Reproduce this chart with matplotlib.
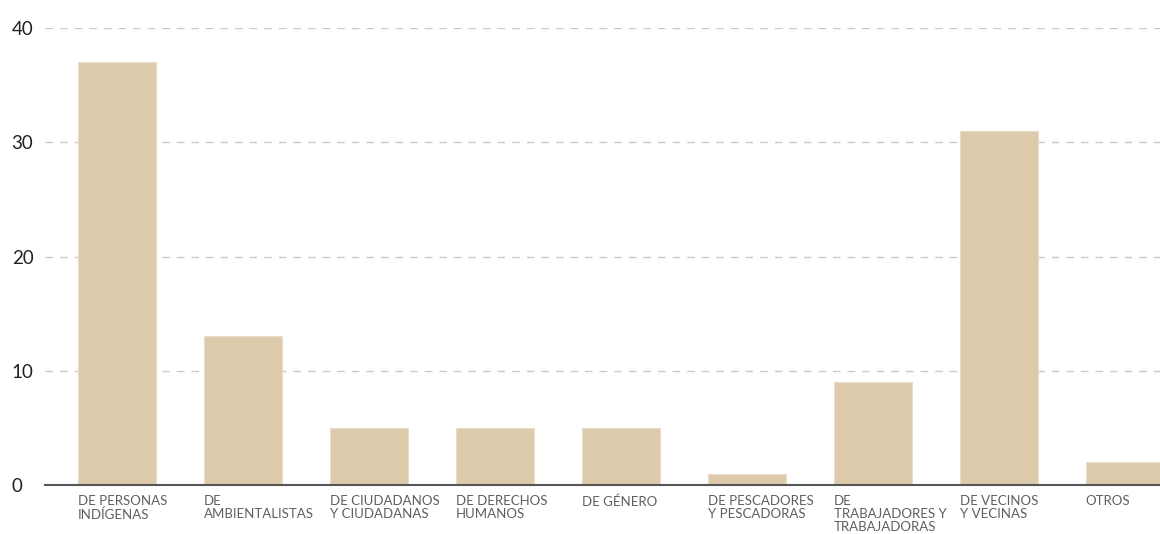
import matplotlib.pyplot as plt
from matplotlib.transforms import offset_copy

categories = [
    "DE PERSONAS\nINDÍGENAS",
    "DE\nAMBIENTALISTAS",
    "DE CIUDADANOS\nY CIUDADANAS",
    "DE DERECHOS\nHUMANOS",
    "DE GÉNERO",
    "DE PESCADORES\nY PESCADORAS",
    "DE\nTRABAJADORES Y\nTRABAJADORAS",
    "DE VECINOS\nY VECINAS",
    "OTROS",
]
values = [37, 13, 5, 5, 5, 1, 9, 31, 2]
yticks = [0, 10, 20, 30, 40]

plt.rcParams["font.family"] = ["Lato", "DejaVu Sans"]

fig = plt.figure(figsize=(11.6, 5.34), dpi=100)
ax = fig.add_axes([45 / 1160, 49 / 534, 1 - 45 / 1160, (485 - 28) / 534])

width = 0.62
xs = list(range(len(categories)))
ax.bar(xs, values, width=width, color="#dccaab", edgecolor="#e8ddc9",
       linewidth=0.8, zorder=2)

ax.set_xlim(-0.571, 8.28)
ax.set_ylim(0, 40)
ax.set_yticks(yticks)
ax.set_yticklabels([str(v) for v in yticks], fontsize=13.5, color="#222222",
                   ha="left")
ax.yaxis.grid(True, linestyle=(0, (5.5, 5)), color="#cacaca", linewidth=1,
              zorder=0)
ax.tick_params(axis="y", length=0, pad=24)

ax.set_xticks([])
trans = offset_copy(ax.get_xaxis_transform(), fig=fig, x=0, y=-10, units="dots")
for x, name in zip(xs, categories):
    ax.text(x - width / 2, 0, name, transform=trans, ha="left", va="top",
            fontsize=9.5, color="#5f5f5f", linespacing=1.1, clip_on=False)

for side in ["top", "right", "left"]:
    ax.spines[side].set_visible(False)
ax.spines["bottom"].set_color("#555555")
ax.spines["bottom"].set_linewidth(1.5)
ax.spines["bottom"].set_zorder(3)

fig.savefig("out.png", dpi=100)
